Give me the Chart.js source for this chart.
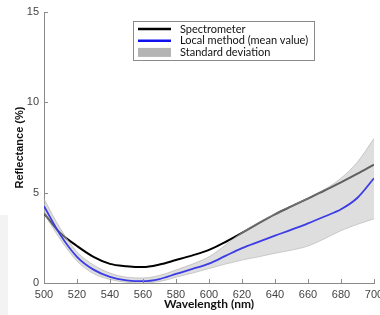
<!DOCTYPE html>
<html>
<head>
<meta charset="utf-8">
<script src="https://cdn.jsdelivr.net/npm/chart.js@4/dist/chart.umd.min.js"></script>
<style>
  html, body { margin: 0; padding: 0; background: #fff; }
  #wrap { width: 380px; height: 315px; }
</style>
</head>
<body>
<div id="wrap"><canvas id="myChart" width="380" height="315"></canvas></div>
<script>
    // Wavelength samples (nm)
    const wavelengths = [500, 510, 520, 530, 540, 550, 560, 570, 580, 590, 600,
                         610, 620, 630, 640, 650, 660, 670, 680, 690, 700];

    // Reflectance (%)
    const spectrometer = [3.85, 2.75, 2.05, 1.45, 1.06, 0.93, 0.88, 1.02, 1.27, 1.53, 1.83,
                          2.27, 2.77, 3.3, 3.8, 4.24, 4.67, 5.12, 5.57, 6.05, 6.55];
    const localMean = [4.25, 2.65, 1.45, 0.74, 0.34, 0.15, 0.1, 0.22, 0.5, 0.78, 1.07,
                       1.5, 1.93, 2.28, 2.62, 2.95, 3.3, 3.68, 4.08, 4.72, 5.8];
    const stdUpper = [4.65, 3.0, 1.72, 1.0, 0.55, 0.32, 0.28, 0.42, 0.72, 1.05, 1.45,
                      2.1, 2.8, 3.35, 3.84, 4.28, 4.7, 5.18, 5.8, 6.7, 8.0];
    const stdLower = [3.85, 2.4, 1.22, 0.52, 0.2, 0.04, 0.0, 0.08, 0.32, 0.55, 0.8,
                      1.05, 1.27, 1.45, 1.65, 1.82, 2.05, 2.45, 2.9, 3.25, 3.55];

    const xTicks = [500, 520, 540, 560, 580, 600, 620, 640, 660, 680, 700];
    const yTicks = [0, 5, 10, 15];

    const pts = (ys) => wavelengths.map((x, i) => ({ x: x, y: ys[i] }));

    // legend box in the upper middle, drawn from the dataset labels
    const legendBox = {
        id: 'legendBox',
        afterDraw(chart) {
            const ctx = chart.ctx;
            const x0 = 133, y0 = 21, w = 181, h = 39;
            ctx.save();
            ctx.fillStyle = '#fff';
            ctx.fillRect(x0, y0, w, h);
            ctx.strokeStyle = '#8a8a8a';
            ctx.lineWidth = 1;
            ctx.strokeRect(x0 + 0.5, y0 + 0.5, w, h);
            const items = chart.data.datasets.filter(d => d.legendOrder !== undefined)
                .sort((a, b) => a.legendOrder - b.legendOrder);
            ctx.font = '11px Lato';
            ctx.textBaseline = 'middle';
            items.forEach((d, i) => {
                const cy = y0 + 8 + i * 11.7;
                if (d.legendBoxColor) {
                    ctx.fillStyle = d.legendBoxColor;
                    ctx.fillRect(x0 + 5, cy - 4.5, 33, 9);
                } else {
                    ctx.strokeStyle = d.legendColor || d.borderColor;
                    ctx.lineWidth = 2.4;
                    ctx.beginPath();
                    ctx.moveTo(x0 + 5, cy);
                    ctx.lineTo(x0 + 38, cy);
                    ctx.stroke();
                }
                ctx.fillStyle = '#111';
                ctx.fillText(d.label, x0 + 47, cy);
            });
            ctx.restore();
        }
    };

    // inward tick marks + faint grey strip at lower left
    const innerTicks = {
        id: 'innerTicks',
        beforeDraw(chart) {
            const ctx = chart.ctx;
            ctx.save();
            ctx.fillStyle = '#f3f3f3';
            ctx.fillRect(0, 215, 8, 100);
            ctx.restore();
        },
        afterDraw(chart) {
            const ctx = chart.ctx;
            const xs = chart.scales.x, ys = chart.scales.y;
            ctx.save();
            ctx.strokeStyle = '#8a8a8a';
            ctx.lineWidth = 1;
            ctx.beginPath();
            xTicks.forEach(v => {
                const px = Math.round(xs.getPixelForValue(v)) + 0.5;
                ctx.moveTo(px, ys.bottom);
                ctx.lineTo(px, ys.bottom - 4);
            });
            yTicks.forEach(v => {
                const py = Math.round(ys.getPixelForValue(v)) + 0.5;
                ctx.moveTo(xs.left, py);
                ctx.lineTo(xs.left + 4, py);
            });
            ctx.stroke();
            ctx.restore();
        }
    };

    const data = {
        datasets: [{
            label: 'Local method (mean value)',
            legendOrder: 1,
            legendColor: '#1010ee',
            data: pts(localMean),
            borderColor: '#3c3ce6',
            borderWidth: 1.8,
            pointRadius: 0,
            fill: false
        }, {
            label: 'Standard deviation',
            legendOrder: 2,
            legendBoxColor: '#b4b4b4',
            data: pts(stdUpper),
            borderColor: 'rgba(165,165,165,0.7)',
            borderWidth: 0.8,
            backgroundColor: 'rgba(190,190,190,0.5)',
            pointRadius: 0,
            fill: '+1'
        }, {
            label: '',
            data: pts(stdLower),
            borderColor: 'rgba(165,165,165,0.7)',
            borderWidth: 0.8,
            pointRadius: 0,
            fill: false
        }, {
            label: 'Spectrometer',
            legendOrder: 0,
            legendColor: '#000',
            data: pts(spectrometer),
            borderColor: '#000',
            borderWidth: 2,
            pointRadius: 0,
            fill: false
        }]
    };

    const options = {
        responsive: false,
        animation: false,
        cubicInterpolationMode: 'monotone',
        layout: { padding: { top: 12, right: 6, left: 0, bottom: 0 } },
        plugins: {
            legend: { display: false },
            tooltip: { enabled: false }
        },
        scales: {
            x: {
                type: 'linear',
                min: 500,
                max: 700,
                afterBuildTicks: (s) => { s.ticks = xTicks.map(v => ({ value: v })); },
                afterFit: (s) => { s.height = 32; s.paddingLeft = 0; s.paddingRight = 0; },
                grid: { display: false, drawTicks: false },
                border: { display: true, color: '#8a8a8a', width: 1 },
                ticks: {
                    autoSkip: false,
                    maxRotation: 0,
                    padding: 5,
                    color: '#444',
                    font: { family: 'Liberation Sans', size: 11 }
                },
                title: {
                    display: true,
                    text: 'Wavelength (nm)',
                    color: '#111',
                    padding: { top: 0, bottom: 4 },
                    font: { family: 'Lato', size: 12, weight: 'bold' }
                }
            },
            y: {
                min: 0,
                max: 15,
                afterBuildTicks: (s) => { s.ticks = yTicks.map(v => ({ value: v })); },
                afterFit: (s) => { s.width = 44; s.paddingTop = 0; s.paddingBottom = 0; },
                grid: { display: false, drawTicks: false },
                border: { display: true, color: '#8a8a8a', width: 1 },
                ticks: {
                    padding: 5,
                    color: '#444',
                    font: { family: 'Liberation Sans', size: 11 }
                },
                title: {
                    display: true,
                    text: 'Reflectance (%)',
                    color: '#111',
                    padding: { top: 13, bottom: 0 },
                    font: { family: 'Liberation Sans', size: 11, weight: 'bold' }
                }
            }
        }
    };

    const ctx = document.getElementById('myChart').getContext('2d');
    const myChart = new Chart(ctx, {
        type: 'line',
        data: data,
        options: options,
        plugins: [innerTicks, legendBox]
    });
</script>
</body>
</html>
